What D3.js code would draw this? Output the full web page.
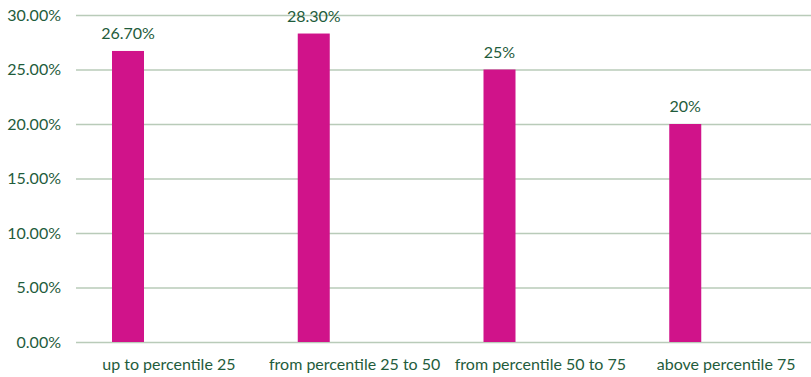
<!DOCTYPE html>
<html><head><meta charset="utf-8">
<script src="https://cdn.jsdelivr.net/npm/d3@7"></script>
<style>body{margin:0;background:#fff}svg{display:block}</style>
</head><body>
<svg id="c" width="811" height="377"></svg>
<script>
const categories = ["up to percentile 25","from percentile 25 to 50","from percentile 50 to 75","above percentile 75"];
const values = [26.7, 28.3, 25, 20];
const valueLabels = ["26.70%","28.30%","25%","20%"];
const ticks = [0,5,10,15,20,25,30];

const svg = d3.select("#c");
const W = 811, H = 377;
const m = {left:76, right:-8, top:15, bottom:35};
const font = "Lato, 'Open Sans', sans-serif";
const green = "#1f5c3c";
const fs = 16;

const x = d3.scaleBand().domain(categories).range([m.left, W - m.right]).paddingInner(0).paddingOuter(0);
const y = d3.scaleLinear().domain([0,30]).range([H - m.bottom, m.top]);

// gridlines
const yAxis = d3.axisLeft(y).tickValues(ticks).tickSize(-(W - m.left)).tickFormat(d => d.toFixed(2) + "%").tickPadding(15);
const ga = svg.append("g").attr("transform", `translate(${m.left},0)`).call(yAxis);
ga.select(".domain").remove();
ga.selectAll(".tick line").attr("stroke", "#b9cbb9").attr("stroke-width", 1.5);
ga.selectAll(".tick text").attr("fill", green).attr("font-family", font).attr("font-size", fs);

// bars (offset left within band, like a clustered chart)
const bw = 32, off = 36;
svg.append("g").selectAll("rect").data(values).join("rect")
  .attr("x", (d,i) => x(categories[i]) + off)
  .attr("y", d => y(d))
  .attr("width", bw)
  .attr("height", d => y(0) - y(d))
  .attr("fill", "#d0138a");

// value labels
svg.append("g").selectAll("text").data(values).join("text")
  .attr("x", (d,i) => x(categories[i]) + off + bw/2)
  .attr("y", d => y(d) - 12)
  .attr("text-anchor", "middle")
  .attr("fill", green).attr("font-family", font).attr("font-size", fs)
  .text((d,i) => valueLabels[i]);

// category labels
const xAxis = d3.axisBottom(x).tickSize(0).tickPadding(17);
const gx = svg.append("g").attr("transform", `translate(0,${y(0)})`).call(xAxis);
gx.select(".domain").remove();
gx.selectAll(".tick text").attr("fill", green).attr("font-family", font).attr("font-size", fs);
</script>
</body></html>
